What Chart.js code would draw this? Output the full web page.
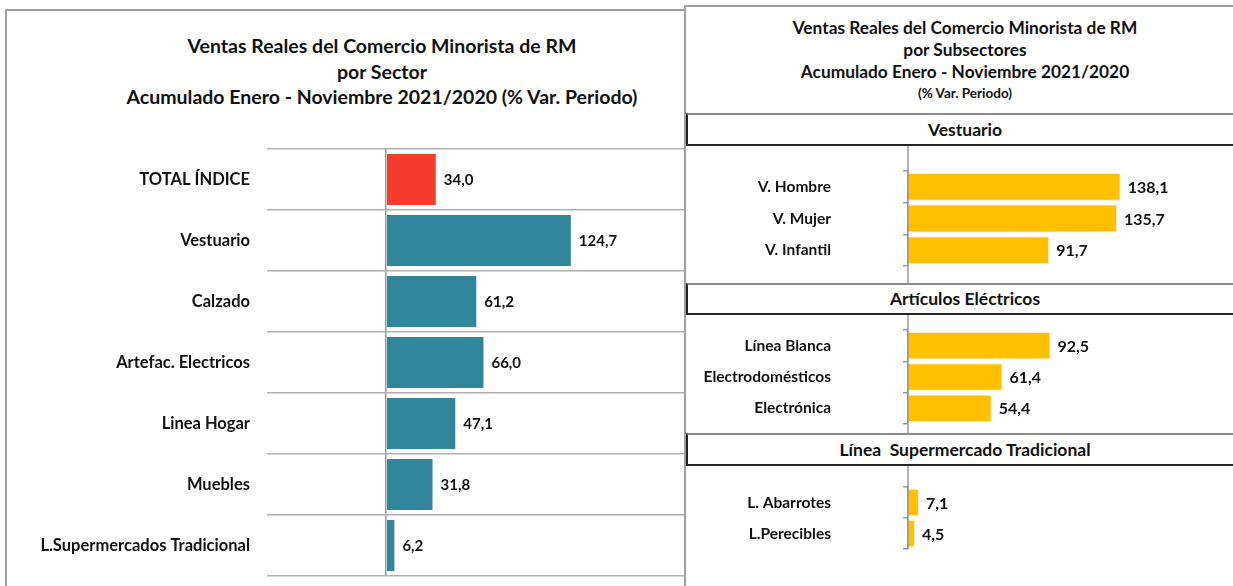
<!DOCTYPE html>
<html>
<head>
<meta charset="utf-8">
<script src="https://cdn.jsdelivr.net/npm/chart.js@4.4.1/dist/chart.umd.min.js"></script>
<style>
  html, body { margin: 0; padding: 0; background: #fff; }
  body { width: 1233px; height: 586px; position: relative; overflow: hidden; font-family: Lato, "Open Sans", sans-serif; color: #111; }
  .abs { position: absolute; }
  canvas { position: absolute; }
  .ttl { position: absolute; text-align: center; font-weight: bold; white-space: nowrap; }
  .hdr { position: absolute; left: 686px; width: 600px; box-sizing: border-box; border-top: 2px solid #8c8c8c; border-left: 2px solid #222; border-bottom: 2px solid #222; background: #fff; }
  .hdr span { position: absolute; left: -2px; width: 558px; text-align: center; font-weight: bold; font-size: 17.5px; line-height: 20px; white-space: pre; }
</style>
</head>
<body>
<div class="abs" style="left:5px;top:9px;width:677px;height:600px;border-left:2px solid #a0a0a0;border-top:2px solid #a0a0a0;border-right:2px solid #a0a0a0;"></div>
<div class="abs" style="left:684px;top:5px;width:600px;height:600px;border-left:2px solid #a0a0a0;border-top:2px solid #a0a0a0;"></div>

<div class="ttl" style="left:0;width:764px;top:33px;font-size:19.5px;line-height:25.5px;">Ventas Reales del Comercio Minorista de RM<br>por Sector<br>Acumulado Enero - Noviembre 2021/2020 (% Var. Periodo)</div>

<div class="ttl" style="left:686px;width:558px;top:17px;font-size:17.3px;line-height:22px;">Ventas Reales del Comercio Minorista de RM<br>por Subsectores<br>Acumulado Enero - Noviembre 2021/2020</div>
<div class="ttl" style="left:686px;width:558px;top:85px;font-size:13.5px;line-height:16px;">(% Var. Periodo)</div>

<canvas id="cLeft" width="684" height="586" style="left:0;top:0;"></canvas>

<div class="hdr" style="top:113px;height:33px;"><span style="top:5px;" id="h1"></span></div>
<canvas id="c1" width="547" height="137" style="left:686px;top:146px;"></canvas>
<div class="hdr" style="top:283px;height:32px;"><span style="top:4px;" id="h2"></span></div>
<canvas id="c2" width="547" height="118" style="left:686px;top:315px;"></canvas>
<div class="hdr" style="top:433px;height:33px;"><span style="top:5px;" id="h3"></span></div>
<canvas id="c3" width="547" height="120" style="left:686px;top:466px;"></canvas>

<script>
// ---- data ----
const sectorLabels = ["TOTAL ÍNDICE", "Vestuario", "Calzado", "Artefac. Electricos", "Linea Hogar", "Muebles", "L.Supermercados Tradicional"];
const sectorValues = [34.0, 124.7, 61.2, 66.0, 47.1, 31.8, 6.2];

const groupTitles = ["Vestuario", "Artículos Eléctricos", "Línea  Supermercado Tradicional"];
const vestuarioLabels = ["V. Hombre", "V. Mujer", "V. Infantil"];
const vestuarioValues = [138.1, 135.7, 91.7];
const electricosLabels = ["Línea Blanca", "Electrodomésticos", "Electrónica"];
const electricosValues = [92.5, 61.4, 54.4];
const superLabels = ["L. Abarrotes", "L.Perecibles"];
const superValues = [7.1, 4.5];

const RED = "#F43D2C", TEAL = "#31869C", GOLD = "#FFC000";
const FONT = "Lato, 'Open Sans', sans-serif";

document.getElementById("h1").textContent = groupTitles[0];
document.getElementById("h2").textContent = groupTitles[1];
document.getElementById("h3").textContent = groupTitles[2];

const fmt = v => v.toFixed(1).replace(".", ",");

const valueLabels = {
  id: "valueLabels",
  afterDatasetsDraw(chart, args, opts) {
    const ctx = chart.ctx;
    const meta = chart.getDatasetMeta(0);
    const data = chart.data.datasets[0].data;
    ctx.save();
    ctx.font = "bold " + opts.size + "px " + FONT;
    ctx.fillStyle = "#111";
    ctx.textBaseline = "middle";
    ctx.textAlign = "left";
    meta.data.forEach((bar, i) => {
      ctx.fillText(fmt(data[i]), bar.x + opts.gap, bar.y + 1);
    });
    ctx.restore();
  }
};

const axisExtend = {
  id: "axisExtend",
  afterDraw(chart, args, opts) {
    if (!opts.on) return;
    const ctx = chart.ctx;
    const x = chart.scales.x.getPixelForValue(0);
    ctx.save();
    ctx.strokeStyle = "#9a9a9a";
    ctx.lineWidth = 1.5;
    ctx.beginPath();
    ctx.moveTo(x, 0);
    ctx.lineTo(x, opts.full ? chart.height : chart.chartArea.bottom);
    ctx.stroke();
    ctx.restore();
  }
};

function fixY(width) {
  return s => { s.width = width; s.paddingTop = 0; s.paddingBottom = 0; };
}
function fixX(s) { s.height = 0; s.paddingLeft = 0; s.paddingRight = 0; }

// ---- left chart ----
new Chart(document.getElementById("cLeft"), {
  type: "bar",
  data: {
    labels: sectorLabels,
    datasets: [{
      data: sectorValues,
      backgroundColor: sectorValues.map((v, i) => i === 0 ? RED : TEAL),
      borderColor: "rgba(255,255,255,0.5)",
      borderWidth: 1,
      barPercentage: 0.87,
      categoryPercentage: 1.0
    }]
  },
  options: {
    indexAxis: "y",
    responsive: false,
    animation: false,
    layout: { padding: { top: 149, bottom: 10, left: 0, right: 0 } },
    plugins: {
      legend: { display: false },
      tooltip: { enabled: false },
      title: { display: false },
      valueLabels: { size: 15, gap: 7 },
      axisExtend: { on: false }
    },
    scales: {
      x: {
        min: -80, max: 200,
        afterFit: fixX,
        ticks: { display: false, stepSize: 20 },
        border: { display: false },
        grid: {
          drawTicks: false,
          color: ctx => (ctx.tick && ctx.tick.value === 0) ? "#9a9a9a" : "rgba(0,0,0,0)",
          lineWidth: 1.5
        }
      },
      y: {
        afterFit: fixY(267),
        border: { display: false },
        grid: { offset: true, drawTicks: false, color: "#b0b0b0", lineWidth: 1.5 },
        ticks: { padding: 17, color: "#111", font: { family: FONT, size: 16.5, weight: "bold" } }
      }
    }
  },
  plugins: [valueLabels, axisExtend]
});

// ---- right charts ----
function subChart(id, labels, values, padTop, padBottom, full) {
  return new Chart(document.getElementById(id), {
    type: "bar",
    data: {
      labels: labels,
      datasets: [{
        data: values,
        backgroundColor: GOLD,
        borderColor: "rgba(255,240,190,0.9)",
        borderWidth: 1,
        barPercentage: 0.88,
        categoryPercentage: 1.0
      }]
    },
    options: {
      indexAxis: "y",
      responsive: false,
      animation: false,
      layout: { padding: { top: padTop, bottom: padBottom, left: 0, right: 17 } },
      plugins: {
        legend: { display: false },
        tooltip: { enabled: false },
        valueLabels: { size: 16, gap: 7 },
        axisExtend: { on: true, full: full }
      },
      scales: {
        x: {
          min: 0, max: 200,
          afterFit: fixX,
          ticks: { display: false },
          border: { display: false },
          grid: { display: false, drawTicks: false }
        },
        y: {
          afterFit: fixY(222),
          border: { display: true, color: "#9a9a9a", width: 1.5 },
          grid: { offset: true, drawOnChartArea: false, drawTicks: true, tickLength: 5, color: "#9a9a9a", lineWidth: 1.5 },
          ticks: { padding: 72, color: "#111", font: { family: FONT, size: 15.5, weight: "bold" } }
        }
      }
    },
    plugins: [valueLabels, axisExtend]
  });
}

subChart("c1", vestuarioLabels, vestuarioValues, 25, 17, true);
subChart("c2", electricosLabels, electricosValues, 15, 9, true);
subChart("c3", superLabels, superValues, 21, 37, false);
</script>
</body>
</html>
